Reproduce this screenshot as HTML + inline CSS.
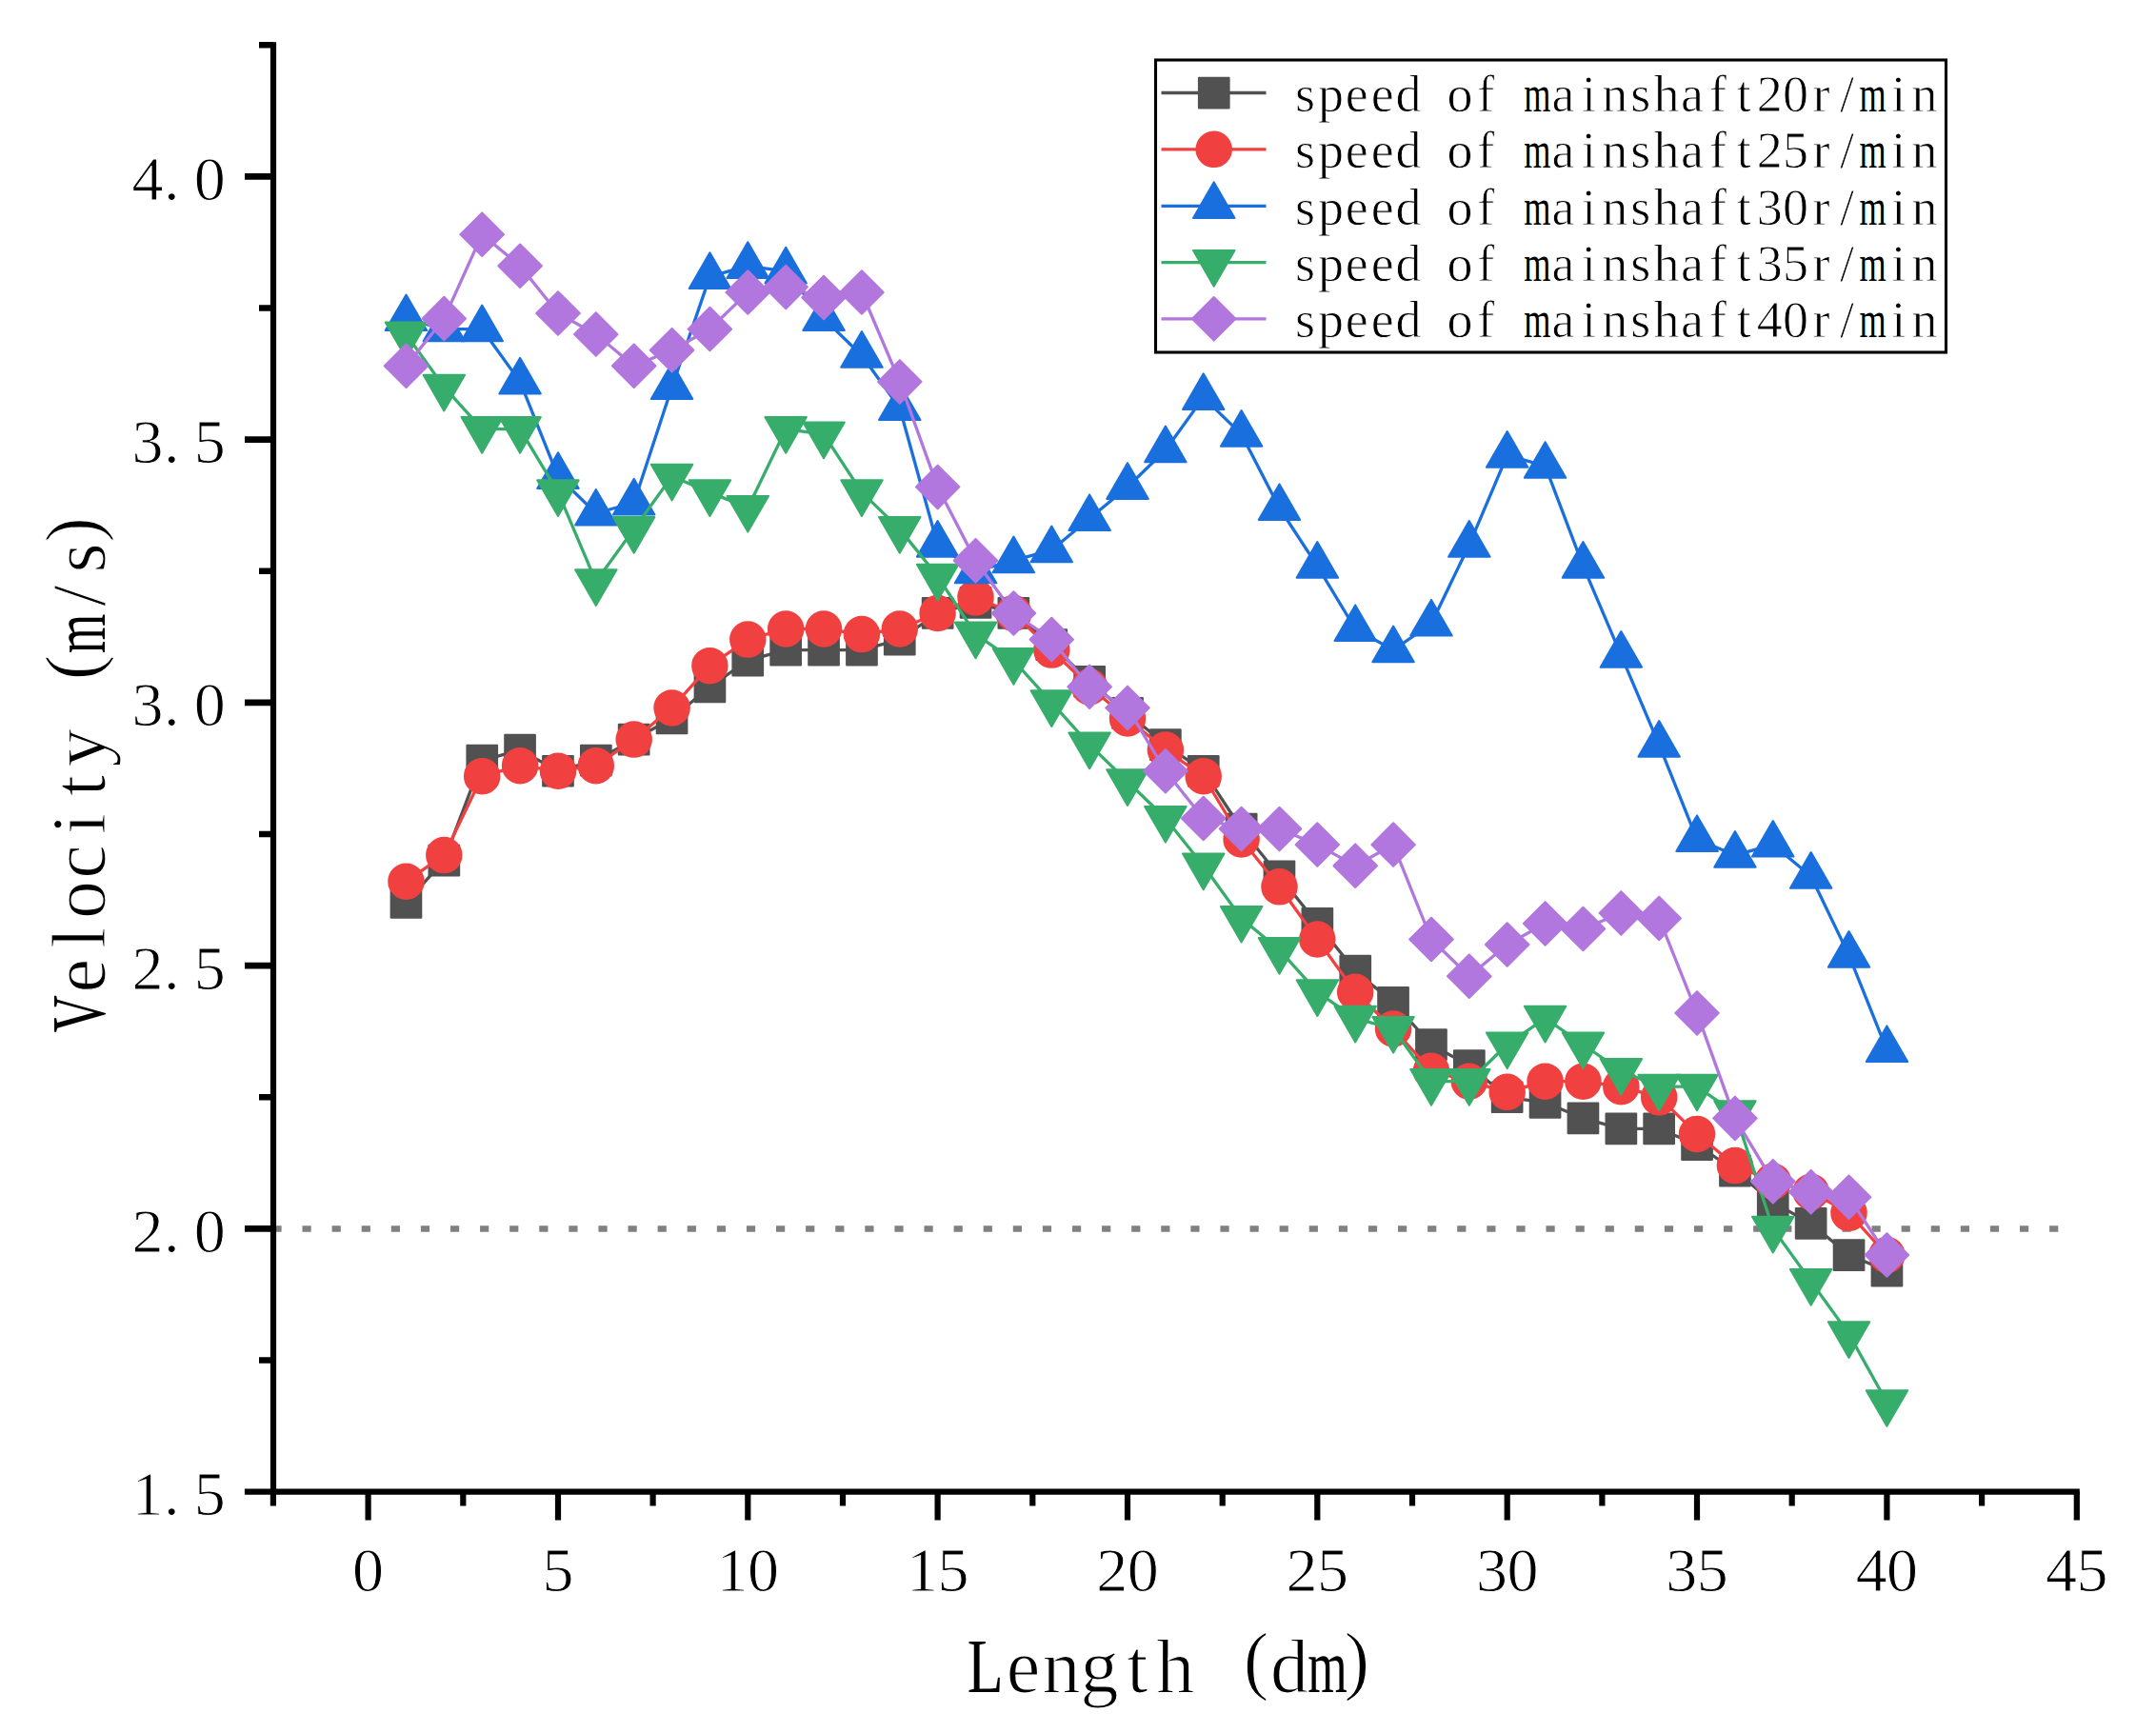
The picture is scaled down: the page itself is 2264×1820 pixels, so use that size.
<!DOCTYPE html>
<html lang="en"><head><meta charset="utf-8"><title>Velocity vs Length</title>
<style>html,body{margin:0;padding:0;background:#fff}svg{display:block}text{white-space:pre;font-family:"Liberation Serif","Noto Serif CJK SC",serif;fill:#000}.tk{font-size:66px;stroke:#fff;stroke-width:.9px}.lg{font-size:54px;stroke:#fff;stroke-width:.8px}.ax{font-size:80px;stroke:#fff;stroke-width:1.2px}</style></head><body>
<svg width="2264" height="1820" viewBox="0 0 2264 1820">
<rect width="2264" height="1820" fill="#fff"/>
<line x1="286.4" y1="1290.4" x2="2180.8" y2="1290.4" stroke="#808080" stroke-width="6.5" stroke-dasharray="9.2 21.895"/>
<g fill="#515151" stroke="#515151" stroke-width="2" stroke-linejoin="round">
<polyline fill="none" stroke="#515151" stroke-width="3.3" stroke-linejoin="round" points="426.5,947.8 466.3,903.6 506.2,798.7 546.1,787.6 586.0,809.7 625.8,798.7 665.7,776.6 705.6,754.5 745.4,721.3 785.3,693.7 825.2,682.6 865.0,682.6 904.9,682.6 944.8,671.6 984.6,644.0 1024.5,632.9 1064.4,644.0 1104.3,677.1 1144.1,715.8 1184.0,748.9 1223.9,782.1 1263.7,809.7 1303.6,870.5 1343.5,920.2 1383.3,969.9 1423.2,1019.7 1463.1,1052.8 1503.0,1097.0 1542.8,1119.1 1582.7,1152.3 1622.6,1157.8 1662.4,1174.4 1702.3,1185.4 1742.2,1185.4 1782.0,1202.0 1821.9,1229.6 1861.8,1262.8 1901.7,1284.9 1941.5,1318.0 1981.4,1334.6"/>
<rect x="410.6" y="932.0" width="31.7" height="31.7"/>
<rect x="450.5" y="887.8" width="31.7" height="31.7"/>
<rect x="490.4" y="782.8" width="31.7" height="31.7"/>
<rect x="530.2" y="771.8" width="31.7" height="31.7"/>
<rect x="570.1" y="793.9" width="31.7" height="31.7"/>
<rect x="610.0" y="782.8" width="31.7" height="31.7"/>
<rect x="649.8" y="760.7" width="31.7" height="31.7"/>
<rect x="689.7" y="738.6" width="31.7" height="31.7"/>
<rect x="729.6" y="705.5" width="31.7" height="31.7"/>
<rect x="769.4" y="677.8" width="31.7" height="31.7"/>
<rect x="809.3" y="666.8" width="31.7" height="31.7"/>
<rect x="849.2" y="666.8" width="31.7" height="31.7"/>
<rect x="889.1" y="666.8" width="31.7" height="31.7"/>
<rect x="928.9" y="655.7" width="31.7" height="31.7"/>
<rect x="968.8" y="628.1" width="31.7" height="31.7"/>
<rect x="1008.7" y="617.1" width="31.7" height="31.7"/>
<rect x="1048.5" y="628.1" width="31.7" height="31.7"/>
<rect x="1088.4" y="661.3" width="31.7" height="31.7"/>
<rect x="1128.3" y="699.9" width="31.7" height="31.7"/>
<rect x="1168.2" y="733.1" width="31.7" height="31.7"/>
<rect x="1208.0" y="766.2" width="31.7" height="31.7"/>
<rect x="1247.9" y="793.9" width="31.7" height="31.7"/>
<rect x="1287.8" y="854.7" width="31.7" height="31.7"/>
<rect x="1327.6" y="904.4" width="31.7" height="31.7"/>
<rect x="1367.5" y="954.1" width="31.7" height="31.7"/>
<rect x="1407.4" y="1003.8" width="31.7" height="31.7"/>
<rect x="1447.2" y="1037.0" width="31.7" height="31.7"/>
<rect x="1487.1" y="1081.2" width="31.7" height="31.7"/>
<rect x="1527.0" y="1103.3" width="31.7" height="31.7"/>
<rect x="1566.8" y="1136.4" width="31.7" height="31.7"/>
<rect x="1606.7" y="1142.0" width="31.7" height="31.7"/>
<rect x="1646.6" y="1158.5" width="31.7" height="31.7"/>
<rect x="1686.5" y="1169.6" width="31.7" height="31.7"/>
<rect x="1726.3" y="1169.6" width="31.7" height="31.7"/>
<rect x="1766.2" y="1186.2" width="31.7" height="31.7"/>
<rect x="1806.1" y="1213.8" width="31.7" height="31.7"/>
<rect x="1845.9" y="1246.9" width="31.7" height="31.7"/>
<rect x="1885.8" y="1269.0" width="31.7" height="31.7"/>
<rect x="1925.7" y="1302.2" width="31.7" height="31.7"/>
<rect x="1965.6" y="1318.8" width="31.7" height="31.7"/>
</g>
<g fill="#F14040" stroke="#F14040" stroke-width="2" stroke-linejoin="round">
<polyline fill="none" stroke="#F14040" stroke-width="3.3" stroke-linejoin="round" points="426.5,925.7 466.3,898.1 506.2,815.2 546.1,804.2 586.0,809.7 625.8,804.2 665.7,776.6 705.6,743.4 745.4,699.2 785.3,671.6 825.2,660.5 865.0,660.5 904.9,666.1 944.8,660.5 984.6,644.0 1024.5,627.4 1064.4,644.0 1104.3,682.6 1144.1,721.3 1184.0,754.5 1223.9,787.6 1263.7,815.2 1303.6,881.5 1343.5,931.3 1383.3,986.5 1423.2,1041.8 1463.1,1080.5 1503.0,1124.7 1542.8,1135.7 1582.7,1146.8 1622.6,1135.7 1662.4,1135.7 1702.3,1141.2 1742.2,1152.3 1782.0,1191.0 1821.9,1224.1 1861.8,1240.7 1901.7,1251.7 1941.5,1273.8 1981.4,1318.0"/>
<circle cx="426.5" cy="925.7" r="18.25"/>
<circle cx="466.3" cy="898.1" r="18.25"/>
<circle cx="506.2" cy="815.2" r="18.25"/>
<circle cx="546.1" cy="804.2" r="18.25"/>
<circle cx="586.0" cy="809.7" r="18.25"/>
<circle cx="625.8" cy="804.2" r="18.25"/>
<circle cx="665.7" cy="776.6" r="18.25"/>
<circle cx="705.6" cy="743.4" r="18.25"/>
<circle cx="745.4" cy="699.2" r="18.25"/>
<circle cx="785.3" cy="671.6" r="18.25"/>
<circle cx="825.2" cy="660.5" r="18.25"/>
<circle cx="865.0" cy="660.5" r="18.25"/>
<circle cx="904.9" cy="666.1" r="18.25"/>
<circle cx="944.8" cy="660.5" r="18.25"/>
<circle cx="984.6" cy="644.0" r="18.25"/>
<circle cx="1024.5" cy="627.4" r="18.25"/>
<circle cx="1064.4" cy="644.0" r="18.25"/>
<circle cx="1104.3" cy="682.6" r="18.25"/>
<circle cx="1144.1" cy="721.3" r="18.25"/>
<circle cx="1184.0" cy="754.5" r="18.25"/>
<circle cx="1223.9" cy="787.6" r="18.25"/>
<circle cx="1263.7" cy="815.2" r="18.25"/>
<circle cx="1303.6" cy="881.5" r="18.25"/>
<circle cx="1343.5" cy="931.3" r="18.25"/>
<circle cx="1383.3" cy="986.5" r="18.25"/>
<circle cx="1423.2" cy="1041.8" r="18.25"/>
<circle cx="1463.1" cy="1080.5" r="18.25"/>
<circle cx="1503.0" cy="1124.7" r="18.25"/>
<circle cx="1542.8" cy="1135.7" r="18.25"/>
<circle cx="1582.7" cy="1146.8" r="18.25"/>
<circle cx="1622.6" cy="1135.7" r="18.25"/>
<circle cx="1662.4" cy="1135.7" r="18.25"/>
<circle cx="1702.3" cy="1141.2" r="18.25"/>
<circle cx="1742.2" cy="1152.3" r="18.25"/>
<circle cx="1782.0" cy="1191.0" r="18.25"/>
<circle cx="1821.9" cy="1224.1" r="18.25"/>
<circle cx="1861.8" cy="1240.7" r="18.25"/>
<circle cx="1901.7" cy="1251.7" r="18.25"/>
<circle cx="1941.5" cy="1273.8" r="18.25"/>
<circle cx="1981.4" cy="1318.0" r="18.25"/>
</g>
<g fill="#1A6FDF" stroke="#1A6FDF" stroke-width="2" stroke-linejoin="round">
<polyline fill="none" stroke="#1A6FDF" stroke-width="3.3" stroke-linejoin="round" points="426.5,334.6 466.3,345.6 506.2,345.6 546.1,400.9 586.0,500.3 625.8,539.0 665.7,528.0 705.6,406.4 745.4,290.4 785.3,279.3 825.2,284.9 865.0,334.6 904.9,373.2 944.8,428.5 984.6,572.2 1024.5,599.8 1064.4,588.7 1104.3,577.7 1144.1,544.5 1184.0,511.4 1223.9,472.7 1263.7,417.4 1303.6,456.1 1343.5,533.5 1383.3,594.3 1423.2,660.5 1463.1,682.6 1503.0,655.0 1542.8,572.2 1582.7,478.2 1622.6,489.3 1662.4,594.3 1702.3,688.2 1742.2,782.1 1782.0,881.5 1821.9,898.1 1861.8,887.1 1901.7,920.2 1941.5,1003.1 1981.4,1102.6"/>
<path d="M426.5 309.5L448.2 347.1H404.7Z"/>
<path d="M466.3 320.5L488.1 358.2H444.6Z"/>
<path d="M506.2 320.5L528.0 358.2H484.5Z"/>
<path d="M546.1 375.8L567.8 413.4H524.3Z"/>
<path d="M586.0 475.2L607.7 512.9H564.2Z"/>
<path d="M625.8 513.9L647.6 551.6H604.1Z"/>
<path d="M665.7 502.8L687.4 540.5H643.9Z"/>
<path d="M705.6 381.3L727.3 419.0H683.8Z"/>
<path d="M745.4 265.3L767.2 302.9H723.7Z"/>
<path d="M785.3 254.2L807.0 291.9H763.5Z"/>
<path d="M825.2 259.7L846.9 297.4H803.4Z"/>
<path d="M865.0 309.5L886.8 347.1H843.3Z"/>
<path d="M904.9 348.1L926.7 385.8H883.2Z"/>
<path d="M944.8 403.4L966.5 441.1H923.0Z"/>
<path d="M984.6 547.0L1006.4 584.7H962.9Z"/>
<path d="M1024.5 574.7L1046.3 612.3H1002.8Z"/>
<path d="M1064.4 563.6L1086.1 601.3H1042.6Z"/>
<path d="M1104.3 552.6L1126.0 590.2H1082.5Z"/>
<path d="M1144.1 519.4L1165.9 557.1H1122.4Z"/>
<path d="M1184.0 486.3L1205.8 523.9H1162.2Z"/>
<path d="M1223.9 447.6L1245.6 485.3H1202.1Z"/>
<path d="M1263.7 392.3L1285.5 430.0H1242.0Z"/>
<path d="M1303.6 431.0L1325.4 468.7H1281.9Z"/>
<path d="M1343.5 508.4L1365.2 546.0H1321.7Z"/>
<path d="M1383.3 569.1L1405.1 606.8H1361.6Z"/>
<path d="M1423.2 635.4L1445.0 673.1H1401.5Z"/>
<path d="M1463.1 657.5L1484.8 695.2H1441.3Z"/>
<path d="M1503.0 629.9L1524.7 667.6H1481.2Z"/>
<path d="M1542.8 547.0L1564.6 584.7H1521.1Z"/>
<path d="M1582.7 453.1L1604.4 490.8H1560.9Z"/>
<path d="M1622.6 464.2L1644.3 501.8H1600.8Z"/>
<path d="M1662.4 569.1L1684.2 606.8H1640.7Z"/>
<path d="M1702.3 663.1L1724.1 700.7H1680.6Z"/>
<path d="M1742.2 757.0L1763.9 794.7H1720.4Z"/>
<path d="M1782.0 856.4L1803.8 894.1H1760.3Z"/>
<path d="M1821.9 873.0L1843.7 910.7H1800.2Z"/>
<path d="M1861.8 862.0L1883.5 899.6H1840.0Z"/>
<path d="M1901.7 895.1L1923.4 932.8H1879.9Z"/>
<path d="M1941.5 978.0L1963.3 1015.7H1919.8Z"/>
<path d="M1981.4 1077.4L2003.2 1115.1H1959.7Z"/>
</g>
<g fill="#37AD6B" stroke="#37AD6B" stroke-width="2" stroke-linejoin="round">
<polyline fill="none" stroke="#37AD6B" stroke-width="3.3" stroke-linejoin="round" points="426.5,351.1 466.3,406.4 506.2,450.6 546.1,450.6 586.0,516.9 625.8,610.8 665.7,555.6 705.6,500.3 745.4,516.9 785.3,533.5 825.2,450.6 865.0,456.1 904.9,516.9 944.8,555.6 984.6,605.3 1024.5,666.1 1064.4,693.7 1104.3,737.9 1144.1,782.1 1184.0,820.8 1223.9,859.5 1263.7,909.2 1303.6,964.4 1343.5,997.6 1383.3,1041.8 1423.2,1069.4 1463.1,1080.5 1503.0,1135.7 1542.8,1135.7 1582.7,1097.0 1622.6,1069.4 1662.4,1097.0 1702.3,1124.7 1742.2,1141.2 1782.0,1141.2 1821.9,1168.8 1861.8,1290.4 1901.7,1345.7 1941.5,1400.9 1981.4,1472.7"/>
<path d="M426.5 376.3L448.2 338.6H404.7Z"/>
<path d="M466.3 431.5L488.1 393.8H444.6Z"/>
<path d="M506.2 475.7L528.0 438.0H484.5Z"/>
<path d="M546.1 475.7L567.8 438.0H524.3Z"/>
<path d="M586.0 542.0L607.7 504.3H564.2Z"/>
<path d="M625.8 635.9L647.6 598.3H604.1Z"/>
<path d="M665.7 580.7L687.4 543.0H643.9Z"/>
<path d="M705.6 525.4L727.3 487.8H683.8Z"/>
<path d="M745.4 542.0L767.2 504.3H723.7Z"/>
<path d="M785.3 558.6L807.0 520.9H763.5Z"/>
<path d="M825.2 475.7L846.9 438.0H803.4Z"/>
<path d="M865.0 481.2L886.8 443.6H843.3Z"/>
<path d="M904.9 542.0L926.7 504.3H883.2Z"/>
<path d="M944.8 580.7L966.5 543.0H923.0Z"/>
<path d="M984.6 630.4L1006.4 592.7H962.9Z"/>
<path d="M1024.5 691.2L1046.3 653.5H1002.8Z"/>
<path d="M1064.4 718.8L1086.1 681.1H1042.6Z"/>
<path d="M1104.3 763.0L1126.0 725.3H1082.5Z"/>
<path d="M1144.1 807.2L1165.9 769.5H1122.4Z"/>
<path d="M1184.0 845.9L1205.8 808.2H1162.2Z"/>
<path d="M1223.9 884.6L1245.6 846.9H1202.1Z"/>
<path d="M1263.7 934.3L1285.5 896.6H1242.0Z"/>
<path d="M1303.6 989.5L1325.4 951.9H1281.9Z"/>
<path d="M1343.5 1022.7L1365.2 985.0H1321.7Z"/>
<path d="M1383.3 1066.9L1405.1 1029.2H1361.6Z"/>
<path d="M1423.2 1094.5L1445.0 1056.8H1401.5Z"/>
<path d="M1463.1 1105.6L1484.8 1067.9H1441.3Z"/>
<path d="M1503.0 1160.8L1524.7 1123.1H1481.2Z"/>
<path d="M1542.8 1160.8L1564.6 1123.1H1521.1Z"/>
<path d="M1582.7 1122.1L1604.4 1084.5H1560.9Z"/>
<path d="M1622.6 1094.5L1644.3 1056.8H1600.8Z"/>
<path d="M1662.4 1122.1L1684.2 1084.5H1640.7Z"/>
<path d="M1702.3 1149.8L1724.1 1112.1H1680.6Z"/>
<path d="M1742.2 1166.3L1763.9 1128.7H1720.4Z"/>
<path d="M1782.0 1166.3L1803.8 1128.7H1760.3Z"/>
<path d="M1821.9 1194.0L1843.7 1156.3H1800.2Z"/>
<path d="M1861.8 1315.5L1883.5 1277.8H1840.0Z"/>
<path d="M1901.7 1370.8L1923.4 1333.1H1879.9Z"/>
<path d="M1941.5 1426.0L1963.3 1388.3H1919.8Z"/>
<path d="M1981.4 1497.8L2003.2 1460.2H1959.7Z"/>
</g>
<g fill="#B177DE" stroke="#B177DE" stroke-width="2" stroke-linejoin="round">
<polyline fill="none" stroke="#B177DE" stroke-width="3.3" stroke-linejoin="round" points="426.5,384.3 466.3,334.6 506.2,246.2 546.1,279.3 586.0,329.0 625.8,351.1 665.7,384.3 705.6,367.7 745.4,345.6 785.3,307.0 825.2,301.4 865.0,312.5 904.9,307.0 944.8,400.9 984.6,511.4 1024.5,588.7 1064.4,644.0 1104.3,671.6 1144.1,721.3 1184.0,743.4 1223.9,809.7 1263.7,859.5 1303.6,870.5 1343.5,870.5 1383.3,887.1 1423.2,909.2 1463.1,887.1 1503.0,986.5 1542.8,1025.2 1582.7,992.0 1622.6,969.9 1662.4,975.5 1702.3,958.9 1742.2,964.4 1782.0,1063.9 1821.9,1174.4 1861.8,1240.7 1901.7,1251.7 1941.5,1257.2 1981.4,1318.0"/>
<path d="M426.5 361.5L449.3 384.3L426.5 407.1L403.7 384.3Z"/>
<path d="M466.3 311.8L489.1 334.6L466.3 357.4L443.5 334.6Z"/>
<path d="M506.2 223.4L529.0 246.2L506.2 269.0L483.4 246.2Z"/>
<path d="M546.1 256.5L568.9 279.3L546.1 302.1L523.3 279.3Z"/>
<path d="M586.0 306.2L608.8 329.0L586.0 351.8L563.2 329.0Z"/>
<path d="M625.8 328.3L648.6 351.1L625.8 373.9L603.0 351.1Z"/>
<path d="M665.7 361.5L688.5 384.3L665.7 407.1L642.9 384.3Z"/>
<path d="M705.6 344.9L728.4 367.7L705.6 390.5L682.8 367.7Z"/>
<path d="M745.4 322.8L768.2 345.6L745.4 368.4L722.6 345.6Z"/>
<path d="M785.3 284.2L808.1 307.0L785.3 329.8L762.5 307.0Z"/>
<path d="M825.2 278.6L848.0 301.4L825.2 324.2L802.4 301.4Z"/>
<path d="M865.0 289.7L887.8 312.5L865.0 335.3L842.2 312.5Z"/>
<path d="M904.9 284.2L927.7 307.0L904.9 329.8L882.1 307.0Z"/>
<path d="M944.8 378.1L967.6 400.9L944.8 423.7L922.0 400.9Z"/>
<path d="M984.6 488.6L1007.4 511.4L984.6 534.2L961.9 511.4Z"/>
<path d="M1024.5 565.9L1047.3 588.7L1024.5 611.5L1001.7 588.7Z"/>
<path d="M1064.4 621.2L1087.2 644.0L1064.4 666.8L1041.6 644.0Z"/>
<path d="M1104.3 648.8L1127.1 671.6L1104.3 694.4L1081.5 671.6Z"/>
<path d="M1144.1 698.5L1166.9 721.3L1144.1 744.1L1121.3 721.3Z"/>
<path d="M1184.0 720.6L1206.8 743.4L1184.0 766.2L1161.2 743.4Z"/>
<path d="M1223.9 786.9L1246.7 809.7L1223.9 832.5L1201.1 809.7Z"/>
<path d="M1263.7 836.7L1286.5 859.5L1263.7 882.2L1240.9 859.5Z"/>
<path d="M1303.6 847.7L1326.4 870.5L1303.6 893.3L1280.8 870.5Z"/>
<path d="M1343.5 847.7L1366.3 870.5L1343.5 893.3L1320.7 870.5Z"/>
<path d="M1383.3 864.3L1406.1 887.1L1383.3 909.9L1360.5 887.1Z"/>
<path d="M1423.2 886.4L1446.0 909.2L1423.2 932.0L1400.4 909.2Z"/>
<path d="M1463.1 864.3L1485.9 887.1L1463.1 909.9L1440.3 887.1Z"/>
<path d="M1503.0 963.7L1525.8 986.5L1503.0 1009.3L1480.2 986.5Z"/>
<path d="M1542.8 1002.4L1565.6 1025.2L1542.8 1048.0L1520.0 1025.2Z"/>
<path d="M1582.7 969.2L1605.5 992.0L1582.7 1014.8L1559.9 992.0Z"/>
<path d="M1622.6 947.1L1645.4 969.9L1622.6 992.7L1599.8 969.9Z"/>
<path d="M1662.4 952.7L1685.2 975.5L1662.4 998.3L1639.6 975.5Z"/>
<path d="M1702.3 936.1L1725.1 958.9L1702.3 981.7L1679.5 958.9Z"/>
<path d="M1742.2 941.6L1765.0 964.4L1742.2 987.2L1719.4 964.4Z"/>
<path d="M1782.0 1041.1L1804.8 1063.9L1782.0 1086.7L1759.2 1063.9Z"/>
<path d="M1821.9 1151.6L1844.7 1174.4L1821.9 1197.2L1799.1 1174.4Z"/>
<path d="M1861.8 1217.9L1884.6 1240.7L1861.8 1263.5L1839.0 1240.7Z"/>
<path d="M1901.7 1228.9L1924.5 1251.7L1901.7 1274.5L1878.9 1251.7Z"/>
<path d="M1941.5 1234.5L1964.3 1257.2L1941.5 1280.0L1918.7 1257.2Z"/>
<path d="M1981.4 1295.2L2004.2 1318.0L1981.4 1340.8L1958.6 1318.0Z"/>
</g>
<g stroke="#000" stroke-width="6.2" fill="none" stroke-linecap="butt">
<path d="M287.0 44.2V1569.7"/>
<path d="M256.9 1566.6H2183.8"/>
<path stroke-width="6.6" d="M287.0 1428.5h-15M287.0 1290.4h-30M287.0 1152.3h-15M287.0 1014.1h-30M287.0 876.0h-15M287.0 737.9h-30M287.0 599.8h-15M287.0 461.6h-30M287.0 323.5h-15M287.0 185.4h-30M287.0 47.3h-15"/>
<path d="M286.9 1566.6v15M386.6 1566.6v30M486.3 1566.6v15M586.0 1566.6v30M685.6 1566.6v15M785.3 1566.6v30M885.0 1566.6v15M984.6 1566.6v30M1084.3 1566.6v15M1184.0 1566.6v30M1283.7 1566.6v15M1383.3 1566.6v30M1483.0 1566.6v15M1582.7 1566.6v30M1682.4 1566.6v15M1782.0 1566.6v30M1881.7 1566.6v15M1981.4 1566.6v30M2081.1 1566.6v15M2180.8 1566.6v30"/>
</g>
<text class="tk" text-anchor="middle" x="155 180.2 220.2" y="1591.0">1.5</text>
<text class="tk" text-anchor="middle" x="155 180.2 220.2" y="1314.7">2.0</text>
<text class="tk" text-anchor="middle" x="155 180.2 220.2" y="1038.5">2.5</text>
<text class="tk" text-anchor="middle" x="155 180.2 220.2" y="762.2">3.0</text>
<text class="tk" text-anchor="middle" x="155 180.2 220.2" y="485.9">3.5</text>
<text class="tk" text-anchor="middle" x="155 180.2 220.2" y="209.7">4.0</text>
<text class="tk" text-anchor="middle" x="386.6" y="1670.8">0</text>
<text class="tk" text-anchor="middle" x="586.0" y="1670.8">5</text>
<text class="tk" text-anchor="middle" x="769.1 801.5" y="1670.8">10</text>
<text class="tk" text-anchor="middle" x="968.4 1000.9" y="1670.8">15</text>
<text class="tk" text-anchor="middle" x="1167.8 1200.2" y="1670.8">20</text>
<text class="tk" text-anchor="middle" x="1367.1 1399.5" y="1670.8">25</text>
<text class="tk" text-anchor="middle" x="1566.5 1598.9" y="1670.8">30</text>
<text class="tk" text-anchor="middle" x="1765.8 1798.2" y="1670.8">35</text>
<text class="tk" text-anchor="middle" x="1965.2 1997.6" y="1670.8">40</text>
<text class="tk" text-anchor="middle" x="2164.6 2196.9" y="1670.8">45</text>
<text class="ax" text-anchor="middle" y="1777" xml:space="preserve"><tspan x="1034.7" y="1777" textLength="37.9" lengthAdjust="spacingAndGlyphs" stroke="none">L</tspan><tspan x="1074.6" y="1777">e</tspan><tspan x="1114.5" y="1777">n</tspan><tspan x="1154.5" y="1777">g</tspan><tspan x="1194.4" y="1777">t</tspan><tspan x="1234.3" y="1777">h</tspan><tspan x="1274.2" y="1777"> </tspan><tspan x="1319.1" y="1770.2">(</tspan><tspan x="1354.1" y="1777">d</tspan><tspan x="1394.0" y="1777" textLength="41.5" lengthAdjust="spacingAndGlyphs" stroke="none">m</tspan><tspan x="1424.9" y="1770.2">)</tspan></text>
<g transform="translate(110 1064.6) rotate(-90)">
<text class="ax" text-anchor="middle" y="0" xml:space="preserve"><tspan x="0.0" y="0" textLength="39.1" lengthAdjust="spacingAndGlyphs" stroke="none">V</tspan><tspan x="39.9" y="0">e</tspan><tspan x="79.8" y="0">l</tspan><tspan x="119.7" y="0">o</tspan><tspan x="159.6" y="0">c</tspan><tspan x="199.5" y="0">i</tspan><tspan x="239.4" y="0">t</tspan><tspan x="279.3" y="0">y</tspan><tspan x="319.2" y="0"> </tspan><tspan x="363.6" y="-6.8">(</tspan><tspan x="399.0" y="0" textLength="41.5" lengthAdjust="spacingAndGlyphs" stroke="none">m</tspan><tspan x="438.9" y="0">/</tspan><tspan x="478.8" y="0">s</tspan><tspan x="508.2" y="-6.8">)</tspan></text>
</g>
<rect x="1213.5" y="63" width="830" height="307" fill="#fff" stroke="#000" stroke-width="3.1"/>
<g fill="#515151" stroke="#515151" stroke-width="2" stroke-linejoin="round"><line x1="1219.5" y1="97.5" x2="1329.5" y2="97.5" stroke="#515151" stroke-width="3.3"/><rect x="1258.9" y="81.7" width="31.7" height="31.7"/></g>
<text class="lg" text-anchor="middle" y="116.8" xml:space="preserve"><tspan x="1370.5" y="116.8">s</tspan><tspan x="1397.6" y="116.8">p</tspan><tspan x="1424.7" y="116.8">e</tspan><tspan x="1451.8" y="116.8">e</tspan><tspan x="1478.9" y="116.8">d</tspan><tspan x="1506.0" y="116.8"> </tspan><tspan x="1533.1" y="116.8">o</tspan><tspan x="1560.2" y="116.8">f</tspan><tspan x="1587.3" y="116.8"> </tspan><tspan x="1614.4" y="116.8" textLength="28.2" lengthAdjust="spacingAndGlyphs" stroke="none">m</tspan><tspan x="1641.5" y="116.8">a</tspan><tspan x="1668.6" y="116.8">i</tspan><tspan x="1695.7" y="116.8">n</tspan><tspan x="1722.8" y="116.8">s</tspan><tspan x="1749.9" y="116.8">h</tspan><tspan x="1777.0" y="116.8">a</tspan><tspan x="1804.1" y="116.8">f</tspan><tspan x="1831.2" y="116.8">t</tspan><tspan x="1858.3" y="116.8">2</tspan><tspan x="1885.4" y="116.8">0</tspan><tspan x="1912.5" y="116.8">r</tspan><tspan x="1939.6" y="116.8">/</tspan><tspan x="1966.7" y="116.8" textLength="28.2" lengthAdjust="spacingAndGlyphs" stroke="none">m</tspan><tspan x="1993.8" y="116.8">i</tspan><tspan x="2020.9" y="116.8">n</tspan></text>
<g fill="#F14040" stroke="#F14040" stroke-width="2" stroke-linejoin="round"><line x1="1219.5" y1="156.8" x2="1329.5" y2="156.8" stroke="#F14040" stroke-width="3.3"/><circle cx="1274.7" cy="156.8" r="18.25"/></g>
<text class="lg" text-anchor="middle" y="176.10000000000002" xml:space="preserve"><tspan x="1370.5" y="176.10000000000002">s</tspan><tspan x="1397.6" y="176.10000000000002">p</tspan><tspan x="1424.7" y="176.10000000000002">e</tspan><tspan x="1451.8" y="176.10000000000002">e</tspan><tspan x="1478.9" y="176.10000000000002">d</tspan><tspan x="1506.0" y="176.10000000000002"> </tspan><tspan x="1533.1" y="176.10000000000002">o</tspan><tspan x="1560.2" y="176.10000000000002">f</tspan><tspan x="1587.3" y="176.10000000000002"> </tspan><tspan x="1614.4" y="176.10000000000002" textLength="28.2" lengthAdjust="spacingAndGlyphs" stroke="none">m</tspan><tspan x="1641.5" y="176.10000000000002">a</tspan><tspan x="1668.6" y="176.10000000000002">i</tspan><tspan x="1695.7" y="176.10000000000002">n</tspan><tspan x="1722.8" y="176.10000000000002">s</tspan><tspan x="1749.9" y="176.10000000000002">h</tspan><tspan x="1777.0" y="176.10000000000002">a</tspan><tspan x="1804.1" y="176.10000000000002">f</tspan><tspan x="1831.2" y="176.10000000000002">t</tspan><tspan x="1858.3" y="176.10000000000002">2</tspan><tspan x="1885.4" y="176.10000000000002">5</tspan><tspan x="1912.5" y="176.10000000000002">r</tspan><tspan x="1939.6" y="176.10000000000002">/</tspan><tspan x="1966.7" y="176.10000000000002" textLength="28.2" lengthAdjust="spacingAndGlyphs" stroke="none">m</tspan><tspan x="1993.8" y="176.10000000000002">i</tspan><tspan x="2020.9" y="176.10000000000002">n</tspan></text>
<g fill="#1A6FDF" stroke="#1A6FDF" stroke-width="2" stroke-linejoin="round"><line x1="1219.5" y1="216.4" x2="1329.5" y2="216.4" stroke="#1A6FDF" stroke-width="3.3"/><path d="M1274.7 191.3L1296.5 229.0H1253.0Z"/></g>
<text class="lg" text-anchor="middle" y="235.70000000000002" xml:space="preserve"><tspan x="1370.5" y="235.70000000000002">s</tspan><tspan x="1397.6" y="235.70000000000002">p</tspan><tspan x="1424.7" y="235.70000000000002">e</tspan><tspan x="1451.8" y="235.70000000000002">e</tspan><tspan x="1478.9" y="235.70000000000002">d</tspan><tspan x="1506.0" y="235.70000000000002"> </tspan><tspan x="1533.1" y="235.70000000000002">o</tspan><tspan x="1560.2" y="235.70000000000002">f</tspan><tspan x="1587.3" y="235.70000000000002"> </tspan><tspan x="1614.4" y="235.70000000000002" textLength="28.2" lengthAdjust="spacingAndGlyphs" stroke="none">m</tspan><tspan x="1641.5" y="235.70000000000002">a</tspan><tspan x="1668.6" y="235.70000000000002">i</tspan><tspan x="1695.7" y="235.70000000000002">n</tspan><tspan x="1722.8" y="235.70000000000002">s</tspan><tspan x="1749.9" y="235.70000000000002">h</tspan><tspan x="1777.0" y="235.70000000000002">a</tspan><tspan x="1804.1" y="235.70000000000002">f</tspan><tspan x="1831.2" y="235.70000000000002">t</tspan><tspan x="1858.3" y="235.70000000000002">3</tspan><tspan x="1885.4" y="235.70000000000002">0</tspan><tspan x="1912.5" y="235.70000000000002">r</tspan><tspan x="1939.6" y="235.70000000000002">/</tspan><tspan x="1966.7" y="235.70000000000002" textLength="28.2" lengthAdjust="spacingAndGlyphs" stroke="none">m</tspan><tspan x="1993.8" y="235.70000000000002">i</tspan><tspan x="2020.9" y="235.70000000000002">n</tspan></text>
<g fill="#37AD6B" stroke="#37AD6B" stroke-width="2" stroke-linejoin="round"><line x1="1219.5" y1="275.7" x2="1329.5" y2="275.7" stroke="#37AD6B" stroke-width="3.3"/><path d="M1274.7 300.8L1296.5 263.1H1253.0Z"/></g>
<text class="lg" text-anchor="middle" y="295.0" xml:space="preserve"><tspan x="1370.5" y="295.0">s</tspan><tspan x="1397.6" y="295.0">p</tspan><tspan x="1424.7" y="295.0">e</tspan><tspan x="1451.8" y="295.0">e</tspan><tspan x="1478.9" y="295.0">d</tspan><tspan x="1506.0" y="295.0"> </tspan><tspan x="1533.1" y="295.0">o</tspan><tspan x="1560.2" y="295.0">f</tspan><tspan x="1587.3" y="295.0"> </tspan><tspan x="1614.4" y="295.0" textLength="28.2" lengthAdjust="spacingAndGlyphs" stroke="none">m</tspan><tspan x="1641.5" y="295.0">a</tspan><tspan x="1668.6" y="295.0">i</tspan><tspan x="1695.7" y="295.0">n</tspan><tspan x="1722.8" y="295.0">s</tspan><tspan x="1749.9" y="295.0">h</tspan><tspan x="1777.0" y="295.0">a</tspan><tspan x="1804.1" y="295.0">f</tspan><tspan x="1831.2" y="295.0">t</tspan><tspan x="1858.3" y="295.0">3</tspan><tspan x="1885.4" y="295.0">5</tspan><tspan x="1912.5" y="295.0">r</tspan><tspan x="1939.6" y="295.0">/</tspan><tspan x="1966.7" y="295.0" textLength="28.2" lengthAdjust="spacingAndGlyphs" stroke="none">m</tspan><tspan x="1993.8" y="295.0">i</tspan><tspan x="2020.9" y="295.0">n</tspan></text>
<g fill="#B177DE" stroke="#B177DE" stroke-width="2" stroke-linejoin="round"><line x1="1219.5" y1="334.8" x2="1329.5" y2="334.8" stroke="#B177DE" stroke-width="3.3"/><path d="M1274.7 312.0L1297.5 334.8L1274.7 357.6L1251.9 334.8Z"/></g>
<text class="lg" text-anchor="middle" y="354.1" xml:space="preserve"><tspan x="1370.5" y="354.1">s</tspan><tspan x="1397.6" y="354.1">p</tspan><tspan x="1424.7" y="354.1">e</tspan><tspan x="1451.8" y="354.1">e</tspan><tspan x="1478.9" y="354.1">d</tspan><tspan x="1506.0" y="354.1"> </tspan><tspan x="1533.1" y="354.1">o</tspan><tspan x="1560.2" y="354.1">f</tspan><tspan x="1587.3" y="354.1"> </tspan><tspan x="1614.4" y="354.1" textLength="28.2" lengthAdjust="spacingAndGlyphs" stroke="none">m</tspan><tspan x="1641.5" y="354.1">a</tspan><tspan x="1668.6" y="354.1">i</tspan><tspan x="1695.7" y="354.1">n</tspan><tspan x="1722.8" y="354.1">s</tspan><tspan x="1749.9" y="354.1">h</tspan><tspan x="1777.0" y="354.1">a</tspan><tspan x="1804.1" y="354.1">f</tspan><tspan x="1831.2" y="354.1">t</tspan><tspan x="1858.3" y="354.1">4</tspan><tspan x="1885.4" y="354.1">0</tspan><tspan x="1912.5" y="354.1">r</tspan><tspan x="1939.6" y="354.1">/</tspan><tspan x="1966.7" y="354.1" textLength="28.2" lengthAdjust="spacingAndGlyphs" stroke="none">m</tspan><tspan x="1993.8" y="354.1">i</tspan><tspan x="2020.9" y="354.1">n</tspan></text>
</svg></body></html>
